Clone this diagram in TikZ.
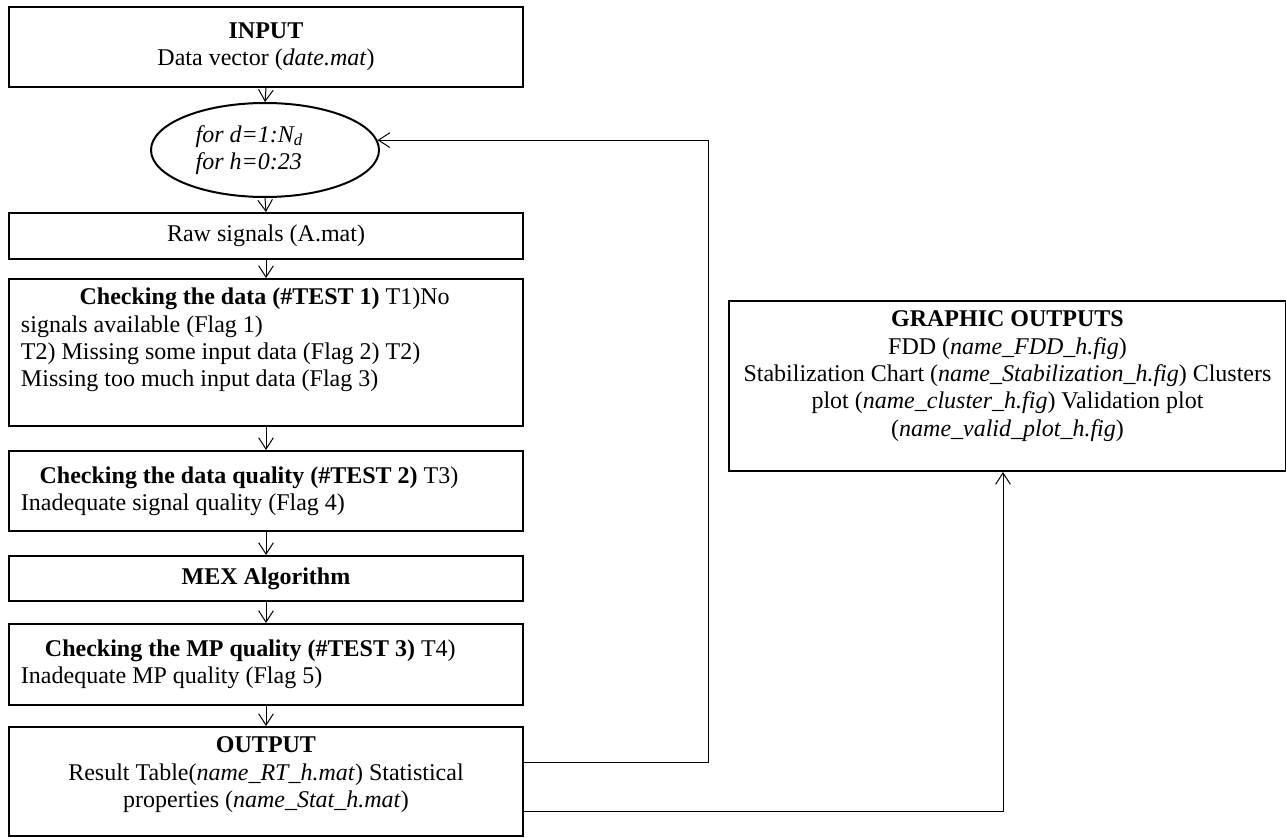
\documentclass[tikz,border=0pt]{standalone}
\usepackage{fontspec}
\setmainfont{Liberation Serif}
\usetikzlibrary{arrows.meta,shapes.geometric}

% text block of fixed height: #1 height, #2 width, #3 top padding, #4 content
\newcommand{\toppar}[4]{\parbox[c][#1][t]{#2}{\vspace*{#3}#4}}
% text block of fixed height, vertically centred
\newcommand{\midpar}[3]{\parbox[c][#1][c]{#2}{#3}}

\begin{document}
\begin{tikzpicture}[x=0.75pt,y=-0.75pt,
  font=\fontsize{18}{20.5}\selectfont,
  box/.style={draw, line width=1.5pt, inner xsep=9pt, inner ysep=0pt, anchor=north west},
  loopell/.style={draw, ellipse, line width=1.5pt, inner sep=0pt,
    minimum width=171pt, minimum height=70.5pt},
  arr/.style={line width=0.75pt, -{Straight Barb[length=8.5pt,width=11pt,line width=0.75pt]}}]
\useasboundingbox (0,0) rectangle (1286,838);

% main column
\node[box] (inp) at (8,6) {\midpar{60pt}{367.5pt}{\centering\textbf{INPUT}\\Data vector (\textit{date.mat})}};

\node[loopell] (ell) at (265,150) {\parbox{104pt}{\raggedright\itshape
  for d=1:N\textsubscript{d}\\for h=0:23}};

\node[box] (raw) at (8,212) {\midpar{34.5pt}{367.5pt}{\centering Raw signals (A.mat)}};

\node[box] (chk) at (8,278) {\toppar{110.25pt}{367.5pt}{5pt}{\raggedright\strut
  \hspace*{44pt}\textbf{Checking the data (\#TEST 1)} T1)No\\
  signals available (Flag 1)\\
  T2) Missing some input data (Flag 2) T2)\\
  Missing too much input data (Flag 3)}};

\node[box] (qual) at (8,450) {\midpar{60pt}{367.5pt}{\raggedright
  \hspace*{14pt}\textbf{Checking the data quality (\#TEST 2)} T3)\\
  Inadequate signal quality (Flag 4)}};

\node[box] (mex) at (8,555) {\midpar{33.75pt}{367.5pt}{\centering\textbf{MEX Algorithm}}};

\node[box] (mp) at (8,623) {\midpar{60.75pt}{367.5pt}{\raggedright
  \hspace*{18pt}\textbf{Checking the MP quality (\#TEST 3)} T4)\\
  Inadequate MP quality (Flag 5)}};

\node[box] (out) at (8,726) {\toppar{81.75pt}{367.5pt}{5pt}{\strut\centering
  \textbf{OUTPUT}\\
  Result Table(\textit{name\_RT\_h.mat}) Statistical\\
  properties (\textit{name\_Stat\_h.mat})}};

% graphic outputs
\node[box] (gfx) at (728,300) {\toppar{127.5pt}{399.75pt}{5pt}{\strut\centering
  \textbf{GRAPHIC OUTPUTS}\\
  FDD (\textit{name\_FDD\_h.fig})\\
  Stabilization Chart (\textit{name\_Stabilization\_h.fig}) Clusters\\
  plot (\textit{name\_cluster\_h.fig}) Validation plot\\
  (\textit{name\_valid\_plot\_h.fig})}};

% flow arrows
\draw[arr] (inp.south) -- (ell.north);
\draw[arr] (ell.south) -- (raw.north);
\draw[arr] (raw.south) -- (chk.north);
\draw[arr] (chk.south) -- (qual.north);
\draw[arr] (qual.south) -- (mex.north);
\draw[arr] (mex.south) -- (mp.north);
\draw[arr] (mp.south) -- (out.north);

% loop back to the ellipse
\coordinate (lpA) at ([yshift=-27pt]out.north east);
\coordinate (lpB) at (708,0);
\draw[arr] (lpA) -- (lpA -| lpB) |- (ell.5);

% results to graphic outputs
\coordinate (gpA) at ([yshift=-63.75pt]out.north east);
\coordinate (gpB) at (1003,0);
\draw[arr] (gpA) -| (gfx.south -| gpB);
\end{tikzpicture}
\end{document}
